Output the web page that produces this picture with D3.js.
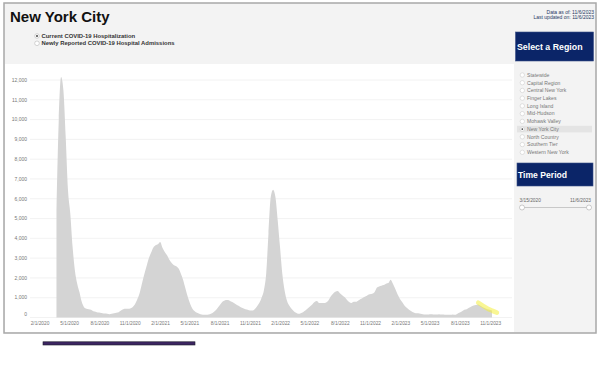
<!DOCTYPE html>
<html>
<head>
<meta charset="utf-8">
<script src="https://cdn.jsdelivr.net/npm/d3@7"></script>
<style>
body{margin:0;background:#fff;font-family:"Liberation Sans",Arial,sans-serif}
</style>
</head>
<body>
<script>
// weekly hospitalizations, New York City, weeks starting 3/22/2020
var weekStart = "2020-03-22";
var hospitalized = [
 5400, 9990,12150,11500, 9140, 6440, 5260, 3570, 2380, 1710,
 1280,  780,  520,  440,  420,  390,  320,  290,  250,  240,
  220,  200,  190,  170,  190,  220,  240,  270,  350,  420,
  440,  440,  460,  520,  660,  900, 1200, 1670, 2130, 2550,
 2970, 3260, 3530, 3650, 3700, 3820, 3530, 3310, 3140, 2920,
 2750, 2640, 2590, 2470, 2210, 1880, 1450, 1030,  690,  440,
  320,  240,  190,  150,  135,  135,  150,  190,  250,  350,
  490,  640,  790,  860,  880,  860,  790,  730,  660,  590,
  520,  470,  420,  390,  350,  350,  420,  560,  730, 1000,
 1370, 2210, 4240, 6100, 6450, 6100, 4920, 3570, 2210, 1370,
  860,  610,  440,  320,  240,  190,  220,  270,  350,  460,
  560,  660,  780,  830,  730,  730,  730,  760,  860, 1060,
 1200, 1300, 1340, 1230, 1130, 1030,  900,  780,  730,  790,
  790,  860,  930, 1000, 1060, 1130, 1170, 1200, 1280, 1500,
 1570, 1610, 1640, 1710, 1740, 1910, 1710, 1450, 1170,  950,
  780,  610,  490,  390,  320,  250,  220,  220,  190,  170,
  150,  150,  170,  170,  150,  150,  170,  150,  150,  135,
  135,  135,  150,  135,  190,  250,  320,  390,  420,  490,
  560,  610,  630,  660,  590,  520,  470,  420,  390,  350
];
// highlighted recent stretch
var highlightDates = ["2023-09-24","2023-10-08","2023-10-22","2023-11-05","2023-11-20"];
var highlightValues = [750, 600, 460, 350, 245];

var yTicks = [0,1000,2000,3000,4000,5000,6000,7000,8000,9000,10000,11000,12000];
var xTickLabels = ["2/1/2020","5/1/2020","8/1/2020","11/1/2020","2/1/2021","5/1/2021","8/1/2021","11/1/2021",
                   "2/1/2022","5/1/2022","8/1/2022","11/1/2022","2/1/2023","5/1/2023","8/1/2023","11/1/2023"];
var metrics = ["Current COVID-19 Hospitalization","Newly Reported COVID-19 Hospital Admissions"];
var regions = ["Statewide","Capital Region","Central New York","Finger Lakes","Long Island","Mid-Hudson",
               "Mohawk Valley","New York City","North Country","Southern Tier","Western New York"];
var selectedRegion = "New York City";

var parse = d3.timeParse("%Y-%m-%d");
var parseLabel = d3.timeParse("%m/%d/%Y");
var start = parse(weekStart);
var data = hospitalized.map(function(v,i){ return {date:d3.timeDay.offset(start, 7*i), value:v}; });

var svg = d3.select("body").append("svg").attr("width",600).attr("height",386);

// frame + backgrounds
svg.append("rect").attr("x",4).attr("y",3).attr("width",592).attr("height",330)
   .attr("fill","#f3f3f3").attr("stroke","#a8a8a8").attr("stroke-width",1.5);
svg.append("rect").attr("x",5).attr("y",64).attr("width",509).attr("height",268).attr("fill","#fff");

var x = d3.scaleTime().domain([parse("2020-02-01"), parse("2023-11-01")]).range([40, 490.7]);
var y = d3.scaleLinear().domain([0,12000]).range([317.5, 80]);

// gridlines
svg.append("g").selectAll("line").data(yTicks).join("line")
   .attr("x1",30).attr("x2",512)
   .attr("y1",function(d){ return y(d); }).attr("y2",function(d){ return y(d); })
   .attr("stroke","#efefef").attr("stroke-width",0.8);

// y labels
svg.append("g").selectAll("text").data(yTicks).join("text")
   .attr("x",27).attr("y",function(d){ return d===0 ? y(d)-3.5 : y(d); })
   .attr("dy","0.35em").attr("text-anchor","end")
   .attr("font-size",5).attr("fill","#777")
   .text(d3.format(","));

// filled series
var area = d3.area()
   .x(function(d){ return x(d.date); })
   .y0(y(0))
   .y1(function(d){ return y(d.value); })
   .curve(d3.curveMonotoneX);
svg.append("path").attr("d",area(data)).attr("fill","#d4d4d4");

// highlight
var hl = highlightDates.map(function(d,i){ return {date:parse(d), value:highlightValues[i]}; });
svg.append("path")
   .attr("d", d3.line().x(function(d){ return x(d.date); }).y(function(d){ return y(d.value); }).curve(d3.curveMonotoneX)(hl))
   .attr("fill","none").attr("stroke","#f4ee3c").attr("stroke-opacity",0.55)
   .attr("stroke-width",4.5).attr("stroke-linecap","round");

// x labels
svg.append("g").selectAll("text").data(xTickLabels).join("text")
   .attr("x",function(d){ return x(parseLabel(d)); }).attr("y",325)
   .attr("text-anchor","middle").attr("font-size",4.8).attr("fill","#777")
   .text(function(d){ return d; });

// title + metric radios
svg.append("text").attr("x",10).attr("y",22).attr("font-size",15).attr("font-weight","bold")
   .attr("fill","#111").text("New York City");

var mg = svg.append("g").selectAll("g").data(metrics).join("g")
   .attr("transform",function(d,i){ return "translate(37," + (36 + i*7.3) + ")"; });
mg.append("circle").attr("r",2.3).attr("fill","#fff").attr("stroke","#aaa").attr("stroke-width",0.5);
mg.filter(function(d,i){ return i===0; }).append("circle").attr("r",1).attr("fill","#444");
mg.append("text").attr("x",4.5).attr("dy","0.35em").attr("font-size",5.9).attr("font-weight","bold")
   .attr("fill","#333").text(function(d){ return d; });

// data-as-of
svg.append("text").attr("x",594).attr("y",13.5).attr("text-anchor","end").attr("font-size",5)
   .attr("fill","#1f3864").text("Data as of: 11/6/2023");
svg.append("text").attr("x",594).attr("y",18.8).attr("text-anchor","end").attr("font-size",5)
   .attr("fill","#1f3864").text("Last updated on: 11/6/2023");

// sidebar headers
var navy = "#0b2568";
svg.append("rect").attr("x",515.5).attr("y",32).attr("width",78).attr("height",29)
   .attr("fill",navy).attr("stroke","#3b4f85").attr("stroke-width",0.6);
svg.append("text").attr("x",517).attr("y",50).attr("font-size",8.8).attr("font-weight","bold")
   .attr("fill","#fff").text("Select a Region");
svg.append("rect").attr("x",517).attr("y",163).attr("width",76).attr("height",23)
   .attr("fill",navy).attr("stroke","#3b4f85").attr("stroke-width",0.6);
svg.append("text").attr("x",518).attr("y",177.5).attr("font-size",8.6).attr("font-weight","bold")
   .attr("fill","#fff").text("Time Period");

// region list
var rg = svg.append("g").selectAll("g").data(regions).join("g")
   .attr("transform",function(d,i){ return "translate(0," + (75 + i*7.73) + ")"; });
rg.filter(function(d){ return d===selectedRegion; }).append("rect")
   .attr("x",517).attr("y",-3.3).attr("width",75).attr("height",6.6).attr("fill","#e4e4e4");
rg.append("circle").attr("cx",522.3).attr("r",2.2).attr("fill","#fff").attr("stroke","#c4c4c4").attr("stroke-width",0.5);
rg.filter(function(d){ return d===selectedRegion; }).append("circle").attr("cx",522.3).attr("r",0.9).attr("fill","#444");
rg.append("text").attr("x",527).attr("dy","0.35em").attr("font-size",5.1).attr("fill","#777")
   .text(function(d){ return d; });

// time slider
svg.append("text").attr("x",519.5).attr("y",201.5).attr("font-size",4.8).attr("fill","#666").text("3/15/2020");
svg.append("text").attr("x",591).attr("y",201.5).attr("text-anchor","end").attr("font-size",4.8).attr("fill","#666").text("11/6/2023");
svg.append("line").attr("x1",522).attr("x2",589).attr("y1",207.5).attr("y2",207.5)
   .attr("stroke","#c8c8c8").attr("stroke-width",1.2);
svg.append("g").selectAll("circle").data([522,589]).join("circle")
   .attr("cx",function(d){ return d; }).attr("cy",207.5).attr("r",2.5)
   .attr("fill","#fff").attr("stroke","#aaa").attr("stroke-width",0.6);

// bottom bar
svg.append("rect").attr("x",43).attr("y",341.8).attr("width",152).attr("height",3.2)
   .attr("fill","#3c2561").attr("stroke","#1d1d2b").attr("stroke-width",0.6);
</script>
</body>
</html>
